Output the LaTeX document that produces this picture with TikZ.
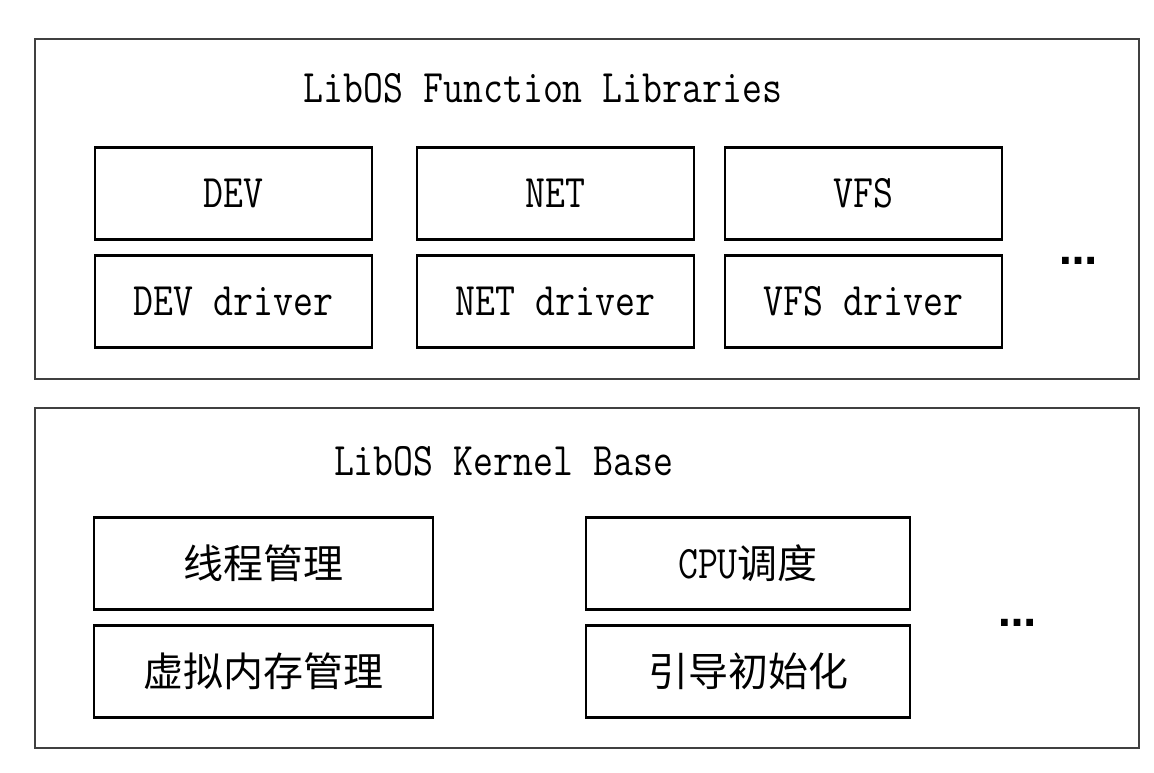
\documentclass[tikz,border=0pt]{standalone}
\usepackage{fontspec}
\newfontfamily\cjk{Noto Sans CJK SC}
\newfontfamily\dotfont{DejaVu Sans}
\newcommand{\tallt}[1]{\scalebox{0.98}[1.18]{#1}}
\begin{document}
\begin{tikzpicture}[x=1pt,y=-1pt,
  outerbox/.style={draw=black!75, line width=1.6pt, minimum width=1104pt, inner sep=0pt},
  innerbox/.style={draw=black, line width=2.4pt, inner sep=0pt, minimum height=92pt,
    font=\fontsize{39.5}{40}\selectfont\ttfamily},
  titletext/.style={inner sep=0pt, font=\fontsize{39.5}{40}\selectfont\ttfamily},
  cjktext/.style={font=\fontsize{40}{42}\selectfont\cjk},
  dotsnode/.style={inner sep=0pt, anchor=base, font=\fontsize{38}{38}\selectfont\dotfont\bfseries}
]
\useasboundingbox (0,0) rectangle (1154,772);
% outer boxes
\node[outerbox, minimum height=340pt] (top) at (587,209) {};
\node[outerbox, minimum height=340pt] (bottom) at (587,578) {};
% titles
\node[titletext] (ttop) at (543,88) {\tallt{LibOS Function Libraries}};
\node[titletext] (tbot) at (503.5,461) {\tallt{LibOS Kernel Base}};
% function libraries
\node[innerbox, minimum width=277pt] (dev) at (233.5,193.5) {\tallt{DEV}};
\node[innerbox, minimum width=277pt] (devd) at (233.5,301.5) {\tallt{DEV driver}};
\node[innerbox, minimum width=277pt] (net) at (555.5,193.5) {\tallt{NET}};
\node[innerbox, minimum width=277pt] (netd) at (555.5,301.5) {\tallt{NET driver}};
\node[innerbox, minimum width=277pt] (vfs) at (863.5,193.5) {\tallt{VFS}};
\node[innerbox, minimum width=277pt] (vfsd) at (863.5,301.5) {\tallt{VFS driver}};
\node[dotsnode] (dtop) at (1078,264) {…};
% kernel base
\node[innerbox, minimum width=339pt, cjktext] (thr) at (263.5,563.5) {线程管理};
\node[innerbox, minimum width=339pt, cjktext] (vm) at (263.5,671.5) {虚拟内存管理};
\node[innerbox, minimum width=324pt] (cpu) at (748,563.5) {\tallt{CPU}{\cjk\fontsize{40}{42}\selectfont 调度}};
\node[innerbox, minimum width=324pt, cjktext] (boot) at (748,671.5) {引导初始化};
\node[dotsnode] (dbot) at (1017,626) {…};
\end{tikzpicture}
\end{document}
